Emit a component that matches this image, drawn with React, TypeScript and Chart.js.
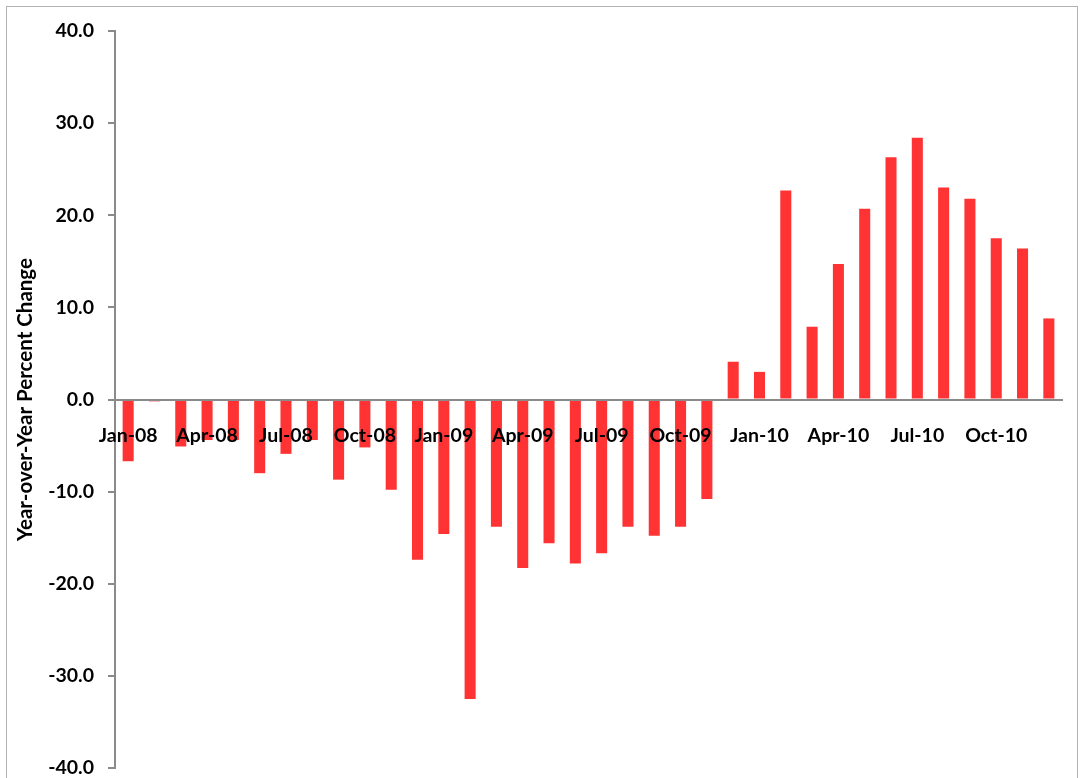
import React, { useEffect, useRef } from "react";
import { Chart, registerables } from "chart.js";

Chart.register(...registerables);

const months: string[] = [
  "Jan-08", "Feb-08", "Mar-08", "Apr-08", "May-08", "Jun-08", "Jul-08", "Aug-08", "Sep-08", "Oct-08", "Nov-08", "Dec-08",
  "Jan-09", "Feb-09", "Mar-09", "Apr-09", "May-09", "Jun-09", "Jul-09", "Aug-09", "Sep-09", "Oct-09", "Nov-09", "Dec-09",
  "Jan-10", "Feb-10", "Mar-10", "Apr-10", "May-10", "Jun-10", "Jul-10", "Aug-10", "Sep-10", "Oct-10", "Nov-10", "Dec-10",
];

const yoyChange: number[] = [
  -6.7, -0.2, -5.1, -4.4, -4.4, -8.0, -5.9, -4.4, -8.7, -5.2, -9.8, -17.4,
  -14.6, -32.5, -13.8, -18.3, -15.6, -17.8, -16.7, -13.8, -14.8, -13.8, -10.8, 4.1,
  3.0, 22.7, 7.9, 14.7, 20.7, 26.3, 28.4, 23.0, 21.8, 17.5, 16.4, 8.8,
];

const yMin = -40;
const yMax = 40;
const yStep = 10;
const axisTitle = "Year-over-Year Percent Change";

export default function App() {
  const canvasRef = useRef<HTMLCanvasElement | null>(null);

  useEffect(() => {
    if (!canvasRef.current) return;
    const axisColor = "#8a8a8a";
    const font = { family: "Lato, 'Open Sans', sans-serif", weight: "bold" as const, size: 19.5 };
    const chart = new Chart(canvasRef.current, {
      type: "bar",
      data: {
        labels: months,
        datasets: [
          {
            data: yoyChange,
            backgroundColor: "#ff3333",
            borderWidth: 0,
            categoryPercentage: 1,
            barPercentage: 0.42,
          },
        ],
      },
      options: {
        animation: false,
        responsive: true,
        maintainAspectRatio: false,
        layout: { padding: { left: 0, right: 20, top: 31, bottom: 10 } },
        plugins: { legend: { display: false }, tooltip: { enabled: false } },
        scales: {
          x: {
            position: { y: 0 } as any,
            afterFit: (scale: any) => {
              scale.height = 0;
            },
            grid: { display: true, drawOnChartArea: false, drawTicks: false },
            border: { display: true, color: axisColor, width: 2, z: 1 },
            ticks: {
              autoSkip: false,
              maxRotation: 0,
              minRotation: 0,
              padding: 25,
              color: "#000",
              font,
              z: 1,
              callback: function (_v: any, i: number) {
                return i % 3 === 0 ? months[i] : "";
              },
            },
          },
          y: {
            min: yMin,
            max: yMax,
            afterFit: (scale: any) => {
              scale.width = 115;
              scale.paddingTop = 0;
              scale.paddingBottom = 0;
            },
            grid: { display: true, drawOnChartArea: false, drawTicks: true, tickLength: 7, color: axisColor, lineWidth: 2 },
            border: { display: true, color: axisColor, width: 2 },
            ticks: {
              stepSize: yStep,
              padding: 14,
              color: "#000",
              font,
              callback: (v: any) => Number(v).toFixed(1),
            },
            title: {
              display: true,
              text: axisTitle,
              color: "#000",
              font: { family: "Lato, 'Open Sans', sans-serif", weight: "bold", size: 20.5 },
              padding: { top: 13, bottom: 0 },
            },
          },
        },
      },
    });
    return () => chart.destroy();
  }, []);

  return (
    <div style={{ position: "fixed", left: 0, top: 0, width: 1082, height: 778, overflow: "hidden", background: "#fff" }}>
      <div
        style={{
          position: "absolute",
          left: 6,
          top: 6,
          width: 1072,
          height: 900,
          border: "1.5px solid #b3b3b3",
          boxSizing: "border-box",
        }}
      />
      <div style={{ position: "absolute", left: 0, top: 0, width: 1082, height: 778 }}>
        <canvas ref={canvasRef} />
      </div>
    </div>
  );
}
